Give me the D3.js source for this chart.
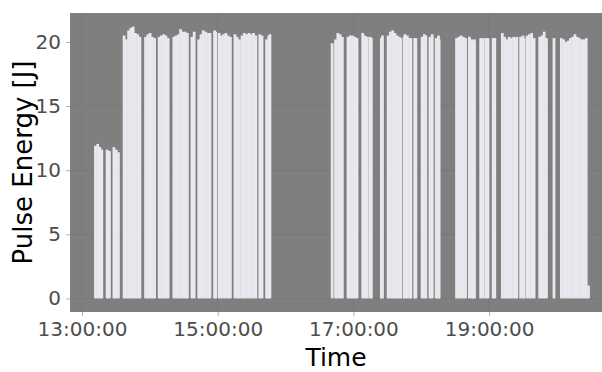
<!DOCTYPE html>
<html>
<head>
<meta charset="utf-8">
<script src="https://cdn.jsdelivr.net/npm/d3@7"></script>
<style>
  html, body { margin: 0; padding: 0; background: #fff; }
  svg { display: block; font-family: "DejaVu Sans", Verdana, sans-serif; }
</style>
</head>
<body>
<svg id="chart" width="602" height="372"></svg>
<script>
// Pulse time stamps (HH:MM:SS) and the energy of each pulse in joules
const times = [
  "13:10:40","13:12:40","13:14:40","13:16:20",
  "13:21:00","13:23:00",
  "13:27:00","13:29:00","13:31:00",
  "13:36:00","13:38:00","13:40:00","13:42:00","13:44:00","13:46:00","13:48:00","13:50:00",
  "13:55:00","13:57:00","13:59:00","14:01:00","14:03:00",
  "14:07:00","14:09:00","14:11:00","14:13:00","14:15:00",
  "14:20:00","14:22:00","14:24:00","14:26:00","14:28:00","14:30:00","14:32:00",
  "14:36:00","14:38:00",
  "14:42:00","14:44:00","14:46:00","14:48:00","14:50:00","14:52:00",
  "14:56:00","14:57:00",
  "15:00:00","15:02:00","15:04:00","15:06:00","15:08:00","15:10:00",
  "15:14:00","15:16:00","15:18:00",
  "15:20:20","15:22:20","15:24:20",
  "15:26:30","15:28:30","15:30:30","15:32:30",
  "15:36:00","15:38:00",
  "15:42:00","15:44:00","15:45:00",
  "16:40:00",
  "16:43:00","16:45:00","16:47:00","16:49:00",
  "16:54:00","16:56:00","16:58:00","17:00:00","17:02:00",
  "17:07:00","17:09:00","17:11:00",
  "17:13:30","17:14:40",
  "17:23:30","17:24:30",
  "17:29:30","17:31:30","17:33:30","17:35:30","17:37:30","17:39:30","17:40:40",
  "17:43:40","17:44:20",
  "17:46:30","17:48:30","17:49:35",
  "17:53:00","17:54:00",
  "17:59:30","18:01:30","18:02:50",
  "18:06:30","18:08:30",
  "18:12:00","18:14:00","18:14:35",
  "18:30:00","18:32:00","18:34:00","18:36:00","18:38:00",
  "18:41:20","18:43:20","18:45:20","18:45:50",
  "18:51:20","18:53:20",
  "18:55:50","18:57:50",
  "19:02:20","19:03:50",
  "19:10:30","19:12:30","19:14:30","19:16:30","19:18:30","19:20:30","19:22:30","19:23:20",
  "19:26:40","19:28:40","19:29:40",
  "19:32:25","19:34:25","19:36:25","19:38:35",
  "19:43:30","19:45:30","19:47:30","19:49:30",
  "19:56:10",
  "20:02:40","20:04:40","20:06:40","20:08:40","20:10:40","20:12:40","20:14:40","20:16:40","20:18:40","20:20:40","20:22:40","20:24:40",
  "20:26:40"
];

const energy = [
  11.9, 12.05, 11.8, 11.6,
  11.6, 11.5,
  11.8, 11.6, 11.4,
  20.5, 20.2, 20.9, 21.1, 21.2, 20.7, 20.6, 20.4,
  20.4, 20.6, 20.7, 20.4, 20.3,
  20.4, 20.5, 20.6, 20.5, 20.3,
  20.4, 20.5, 20.6, 21.0, 20.8, 20.8, 20.7,
  20.4, 20.8,
  20.2, 20.6, 20.9, 20.8, 20.7, 20.7,
  20.9, 20.8,
  20.7, 20.5, 20.6, 20.7, 20.5, 20.4,
  20.6, 20.4, 20.2,
  20.5, 20.7, 20.6,
  20.7, 20.6, 20.7, 20.5,
  20.6, 20.5,
  20.2, 20.5, 20.6,
  19.9,
  20.2, 20.7, 20.6, 20.4,
  20.4, 20.5, 20.5, 20.4, 20.3,
  20.7, 20.5, 20.4,
  20.4, 20.3,
  20.3, 20.5,
  20.5, 20.8, 20.9, 20.7, 20.5, 20.4, 20.3,
  20.4, 20.6,
  20.5, 20.3, 20.3,
  20.3, 20.3,
  20.4, 20.6, 20.5,
  20.4, 20.6,
  20.3, 20.5, 20.2,
  20.3, 20.4, 20.5, 20.4, 20.3,
  20.4, 20.2, 20.0, 20.2,
  20.3, 20.3,
  20.3, 20.3,
  20.3, 20.3,
  20.7, 20.4, 20.2, 20.4, 20.3, 20.4, 20.3, 20.4,
  20.4, 20.5, 20.3,
  20.5, 20.6, 20.7, 20.3,
  20.4, 20.5, 20.8, 20.3,
  20.3,
  20.3, 20.2, 20.0, 20.1, 20.3, 20.4, 20.6, 20.4, 20.3, 20.2, 20.2, 20.3,
  1.0
];

const xTicks = ["13:00:00", "15:00:00", "17:00:00", "19:00:00"];
const yTicks = [0, 5, 10, 15, 20];
const xDomain = ["12:49:24", "20:39:50"];
const yDomain = [-1.06, 22.26];

const parseTime = d3.timeParse("%H:%M:%S");
const fmtTime = d3.timeFormat("%H:%M:%S");
const data = times.map((t, i) => ({ t: parseTime(t), v: energy[i] }));

const svg = d3.select("#chart");
const plot = { left: 70, right: 602, top: 13, bottom: 312 };

const x = d3.scaleTime()
  .domain(xDomain.map(parseTime))
  .range([plot.left, plot.right]);
const y = d3.scaleLinear()
  .domain(yDomain)
  .range([plot.bottom, plot.top]);

// Panel background
svg.append("rect")
  .attr("x", plot.left).attr("y", plot.top)
  .attr("width", plot.right - plot.left)
  .attr("height", plot.bottom - plot.top)
  .attr("fill", "#7f7f7f");

// Grid lines
const grid = svg.append("g").attr("stroke", "#797979").attr("stroke-width", 1);
grid.selectAll(".gx").data(xTicks.map(parseTime)).join("line")
  .attr("x1", d => x(d)).attr("x2", d => x(d))
  .attr("y1", plot.top).attr("y2", plot.bottom);
grid.selectAll(".gy").data(yTicks).join("line")
  .attr("x1", plot.left).attr("x2", plot.right)
  .attr("y1", d => y(d)).attr("y2", d => y(d));

// Bars: each pulse covers a two-minute interval from its time stamp;
// a small overlap hides the anti-aliasing seam between neighbouring bars
const barMs = 2 * 60 * 1000;
const seam = 0.5;
svg.append("g")
  .selectAll("rect")
  .data(data)
  .join("rect")
  .attr("x", d => x(d.t))
  .attr("width", d => x(new Date(+d.t + barMs)) - x(d.t) + seam)
  .attr("y", d => y(d.v))
  .attr("height", d => y(0) - y(d.v))
  .attr("fill", "#e8e9ee");

// Axes
const xAxis = d3.axisBottom(x)
  .tickValues(xTicks.map(parseTime))
  .tickFormat(fmtTime)
  .tickSize(4)
  .tickPadding(6);
const gx = svg.append("g")
  .attr("transform", `translate(0,${plot.bottom})`)
  .call(xAxis);
gx.select(".domain").remove();
gx.selectAll("line").attr("stroke", "#b3b3b3");
gx.selectAll("text")
  .attr("fill", "#4d4d4d")
  .style("font-size", "20px")
  .style("font-family", "'DejaVu Sans', Verdana, sans-serif");

const yAxis = d3.axisLeft(y)
  .tickValues(yTicks)
  .tickSize(4)
  .tickPadding(5);
const gy = svg.append("g")
  .attr("transform", `translate(${plot.left},0)`)
  .call(yAxis);
gy.select(".domain").remove();
gy.selectAll("line").attr("stroke", "#b3b3b3");
gy.selectAll("text")
  .attr("fill", "#4d4d4d")
  .style("font-size", "20px")
  .style("font-family", "'DejaVu Sans', Verdana, sans-serif");

// Axis titles
svg.append("text")
  .attr("x", (plot.left + plot.right) / 2)
  .attr("y", 366)
  .attr("text-anchor", "middle")
  .attr("fill", "#000")
  .style("font-size", "25px")
  .text("Time");

svg.append("text")
  .attr("transform", `translate(32,${(plot.top + plot.bottom) / 2}) rotate(-90)`)
  .attr("text-anchor", "middle")
  .attr("fill", "#000")
  .style("font-size", "26px")
  .text("Pulse Energy [J]");
</script>
</body>
</html>
